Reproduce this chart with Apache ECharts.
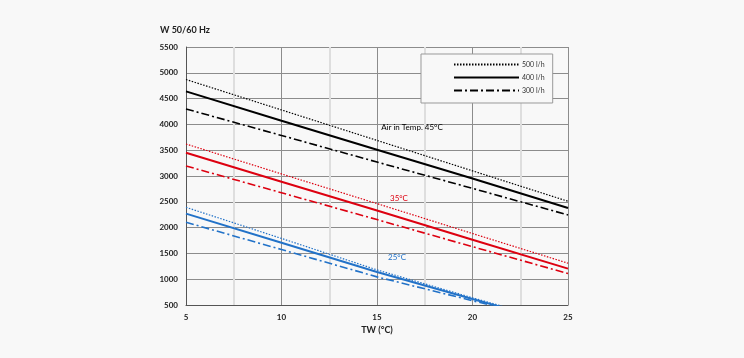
<!DOCTYPE html>
<html><head><meta charset="utf-8">
<script src="https://cdn.jsdelivr.net/npm/echarts@6/dist/echarts.min.js"></script>
<style>html,body{margin:0;padding:0;background:#f8f8f8}#c{width:744px;height:358px}</style>
</head><body><div id="c"></div>
<script>
// TW (°C) x values
const tw = [5, 10, 15, 20, 25];
const twBlue = [5, 10, 15, 20, 22];
// Air in Temp. 45°C
const black500 = [4870, 4280, 3690, 3100, 2510];
const black400 = [4640, 4070, 3510, 2950, 2380];
const black300 = [4300, 3785, 3270, 2760, 2245];
// 35°C
const red500 = [3620, 3040, 2465, 1885, 1310];
const red400 = [3450, 2890, 2330, 1765, 1205];
const red300 = [3195, 2675, 2155, 1630, 1110];
// 25°C
const blue500 = [2393, 1790, 1180, 640, 430];
const blue400 = [2270, 1705, 1140, 616, 410];
const blue300 = [2103, 1575, 1045, 583, 405];

const flowNames = ['500 l/h', '400 l/h', '300 l/h'];
const curveLabels = ['Air in Temp. 45°C', '35°C', '25°C'];
const labelPos = [[16.83, 3950], [16.15, 2574], [16.05, 1430]];

const FONT = 'Lato, "Open Sans", sans-serif';
const styles = [
  {width: 1.2, type: [1.5, 1.5]},
  {width: 2, type: 'solid'},
  {width: 1.6, type: [8, 3, 2, 3]}
];
const BLACK = '#000000', RED = '#dd0010', BLUE = '#2272c8';

function zip(xs, ys){ return xs.map((x,i)=>[x, ys[i]]); }

const groups = [
  {color: BLACK, xs: tw, data: [black500, black400, black300], label: curveLabels[0], pos: labelPos[0]},
  {color: RED, xs: tw, data: [red500, red400, red300], label: curveLabels[1], pos: labelPos[1]},
  {color: BLUE, xs: twBlue, data: [blue500, blue400, blue300], label: curveLabels[2], pos: labelPos[2]}
];

const series = [];
groups.forEach(g => {
  g.data.forEach((d, k) => {
    const s = {
      type: 'line', name: '_' + g.label + k, data: zip(g.xs, d),
      symbol: 'none', clip: true, silent: true,
      lineStyle: {color: g.color, width: styles[k].width, type: styles[k].type},
      z: 3
    };
    if (k === 0) {
      s.markPoint = {
        symbol: 'circle', symbolSize: 1, silent: true,
        itemStyle: {color: 'rgba(0,0,0,0)'},
        data: [{coord: g.pos, value: g.label}],
        label: {show: true, formatter: g.label, color: g.color, fontSize: 8, fontFamily: FONT, position: 'inside'}
      };
    }
    series.push(s);
  });
});
// legend-only series (black)
flowNames.forEach((n, k) => {
  series.push({type: 'line', name: n, data: [], symbol: 'none',
    lineStyle: {color: BLACK, width: styles[k].width, type: styles[k].type},
    itemStyle: {color: BLACK}});
});

const chart = echarts.init(document.getElementById('c'));
chart.setOption({
  backgroundColor: '#f8f8f8',
  animation: false,
  grid: {left: 186, right: 176, top: 47, bottom: 53},
  legend: {
    data: flowNames, orient: 'vertical', left: 421, top: 54,
    padding: [7, 8, 9, 32], itemGap: 6, itemWidth: 65, itemHeight: 8,
    backgroundColor: '#f8f8f8', borderColor: '#999', borderWidth: 1,
    itemStyle: {color: 'rgba(0,0,0,0)', borderColor: 'rgba(0,0,0,0)', borderWidth: 0},
    textStyle: {fontSize: 7, color: '#333', fontFamily: FONT, padding: [0,0,0,-2]}
  },
  xAxis: {
    type: 'value', min: 5, max: 25, interval: 5,
    name: 'TW (°C)', nameLocation: 'middle', nameGap: 20,
    nameTextStyle: {fontSize: 9, fontWeight: 'bold', color: '#222', fontFamily: FONT},
    axisLine: {show: true, onZero: false, lineStyle: {color: '#555'}},
    axisTick: {show: false},
    axisLabel: {fontSize: 8, fontWeight: 'bold', color: '#222', fontFamily: FONT, margin: 8},
    splitLine: {show: true, lineStyle: {color: '#8c8c8c', width: 1}},
    minorTick: {show: false, splitNumber: 2},
    minorSplitLine: {show: true, lineStyle: {color: '#dedede', width: 2}}
  },
  yAxis: {
    type: 'value', min: 500, max: 5500, interval: 500,
    name: 'W 50/60 Hz', nameLocation: 'end', nameGap: 12,
    nameTextStyle: {fontSize: 9, fontWeight: 'bold', color: '#222', fontFamily: FONT, align: 'left', padding: [0,0,0,-26]},
    axisLine: {show: true, lineStyle: {color: '#555'}},
    axisTick: {show: false},
    axisLabel: {fontSize: 8, fontWeight: 'bold', color: '#222', fontFamily: FONT, margin: 8, formatter: v => String(v)},
    splitLine: {show: true, lineStyle: {color: '#8c8c8c', width: 1}}
  },
  series: series
});
</script></body></html>
